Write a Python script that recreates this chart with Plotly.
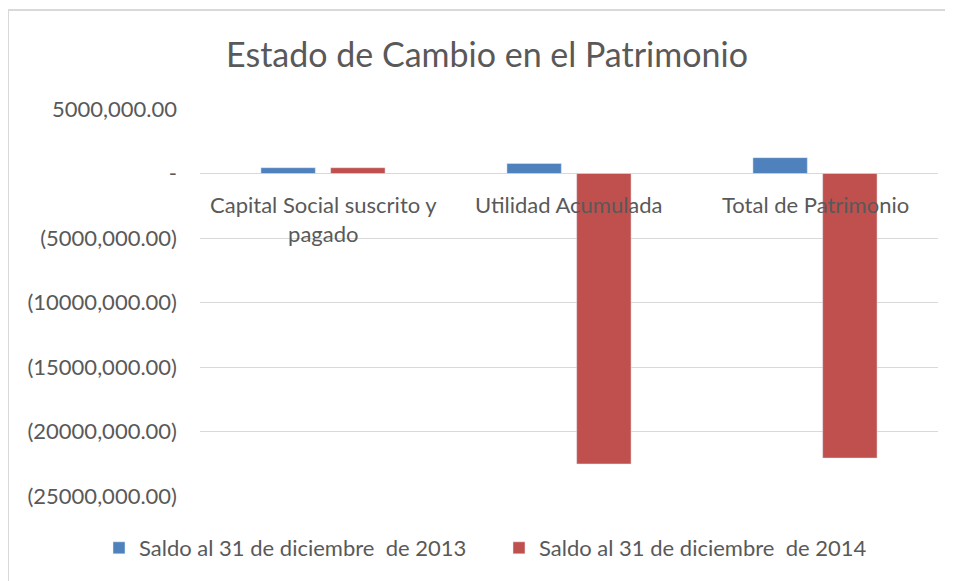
import plotly.graph_objects as go

categories = ["Capital Social suscrito y<br>pagado", "Utilidad Acumulada", "Total de Patrimonio"]
series_names = ["Saldo al 31 de diciembre  de 2013", "Saldo al 31 de diciembre  de 2014"]
values_2013 = [450000, 780000, 1230000]
values_2014 = [450000, -22520000, -22060000]
tick_vals = [5000000, 0, -5000000, -10000000, -15000000, -20000000, -25000000]
tick_text = ["5000,000.00", "-", "(5000,000.00)", "(10000,000.00)", "(15000,000.00)",
             "(20000,000.00)", "(25000,000.00)"]
title_text = "Estado de Cambio en el Patrimonio"

FONT = "Lato"
GRAY = "#595959"
FS = 22

# page has an 8px body margin; work in page pixels and convert
OFF = 8
W, H = 945, 573
L, R, T, B = 200 - OFF, 15, 109 - OFF, 85
pw, ph = W - L - R, H - T - B


def px_x(p):
    return (p - OFF - L) / pw


def px_y(p):
    return (H - B - (p - OFF)) / ph


fig = go.Figure()
fig.add_trace(go.Bar(x=categories, y=values_2013, name=series_names[0],
                     marker_color="#4F81BD", legend="legend"))
fig.add_trace(go.Bar(x=categories, y=values_2014, name=series_names[1],
                     marker_color="#C0504D", legend="legend2"))

for c in categories:
    fig.add_annotation(x=c, y=0, xref="x", yref="y", text=c, showarrow=False,
                       yanchor="top", yshift=-15, font=dict(family=FONT, size=FS, color=GRAY))

fig.add_shape(type="line", xref="paper", yref="paper", x0=px_x(8), x1=px_x(8),
              y0=px_y(10), y1=px_y(600), line=dict(color="#d9d9d9", width=2))
fig.add_shape(type="line", xref="paper", yref="paper", x0=px_x(8), x1=px_x(970),
              y0=px_y(10), y1=px_y(10), line=dict(color="#d9d9d9", width=2))

fig.update_layout(
    width=W, height=H,
    margin=dict(l=L, r=R, t=T, b=B),
    paper_bgcolor="white", plot_bgcolor="white",
    title=dict(text=title_text, xref="container", x=(487 - OFF) / W, xanchor="center",
               yref="container", y=(H - (55 - OFF)) / H, yanchor="middle",
               font=dict(family=FONT, size=34, color=GRAY)),
    barmode="group", bargap=0.433, bargroupgap=0.22,
    xaxis=dict(showticklabels=False, showline=False, showgrid=False, zeroline=False),
    yaxis=dict(range=[-25000000, 5000000], tickvals=tick_vals, ticktext=tick_text,
               showgrid=True, gridcolor="#d9d9d9", gridwidth=1,
               zeroline=True, zerolinecolor="#d9d9d9", zerolinewidth=1,
               showline=False, ticks="", ticklabelstandoff=22,
               tickfont=dict(family=FONT, size=FS, color=GRAY)),
    legend=dict(orientation="h", x=px_x(99), xanchor="left", y=px_y(548), yanchor="middle",
                font=dict(family=FONT, size=FS, color=GRAY), bgcolor="rgba(0,0,0,0)"),
    legend2=dict(orientation="h", x=px_x(499), xanchor="left", y=px_y(548), yanchor="middle",
                 font=dict(family=FONT, size=FS, color=GRAY), bgcolor="rgba(0,0,0,0)"),
    showlegend=True,
)

fig.write_html("out.html")
